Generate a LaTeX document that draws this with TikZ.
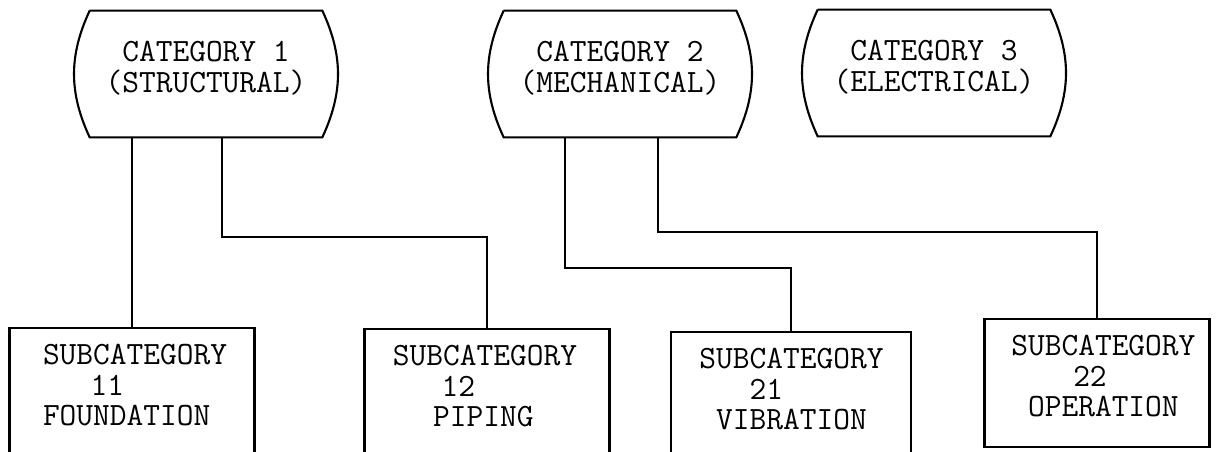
\documentclass[tikz,border=0pt]{standalone}
\usepackage{tikz}
\usetikzlibrary{positioning}

% indent measured in typewriter characters
\newcommand{\gap}[1]{\hspace*{#1\fontcharwd\font`M}}
% three typed lines of a subcategory box: margin, indent+number, indent+name
\newcommand{\subtext}[5]{\gap{#1}SUBCATEGORY\\\gap{#2}#3\\\gap{#4}#5\rule[-8pt]{0pt}{0pt}}
\newcommand{\cattext}[2]{#1\\#2\rule[-8pt]{0pt}{0pt}}

\begin{document}
\begin{tikzpicture}[
    x=0.02cm, y=-0.02cm,
    catbox/.style = {minimum width=4.64cm, minimum height=2.52cm, inner sep=0pt,
                     align=center, font=\ttfamily\fontsize{18.5}{17.5}\selectfont},
    subbox/.style = {draw, line width=1.2pt, anchor=north, text width=4.9cm,
                     minimum height=2.56cm, inner xsep=0pt, align=left,
                     font=\ttfamily\fontsize{18.5}{17.5}\selectfont},
    outline/.style= {line width=1.2pt},
    wire/.style   = {line width=1.2pt}
]
    \useasboundingbox (0,0) rectangle (1223,452);

    %-- Categories (sides bowed outwards) ----------------------------------
    \node[catbox] (cat1) at (206,74) {\cattext{CATEGORY 1}{(STRUCTURAL)}};
    \node[catbox] (cat2) at (620,74) {\cattext{CATEGORY 2}{(MECHANICAL)}};
    \node[catbox] (cat3) at (934,73) {\cattext{CATEGORY 3}{(ELECTRICAL)}};

    \foreach \c in {cat1,cat2,cat3}
        \draw[outline] (\c.north west) -- (\c.north east)
            to[bend left=25] (\c.south east) -- (\c.south west)
            to[bend left=25] (\c.north west);

    %-- Subcategories (run off the bottom edge) ----------------------------
    \node[subbox] (sub11) at (132,327) {\subtext{2.0}{4.85}{11}{2.0}{FOUNDATION}};
    \node[subbox] (sub12) at (487,328) {\subtext{1.7}{4.6}{12}{4.1}{PIPING}};
    \node[subbox, text width=4.8cm] (sub21) at (791,331)
        {\subtext{1.7}{4.7}{21}{2.7}{VIBRATION}};
    \node[subbox, text width=4.5cm] (sub22) at (1097,318)
        {\subtext{1.6}{5.3}{22}{2.6}{OPERATION}};

    %-- Connectors ----------------------------------------------------------
    \draw[wire] (cat1.south -| sub11.north) -- (sub11.north);
    \draw[wire] ([xshift=0.32cm]cat1.south) -- ++(0,100) -| (sub12.north);
    \draw[wire] ([xshift=-1.1cm]cat2.south) -- ++(0,131) -| (sub21.north);
    \draw[wire] ([xshift=0.76cm]cat2.south) -- ++(0,95)  -| (sub22.north);

\end{tikzpicture}
\end{document}
